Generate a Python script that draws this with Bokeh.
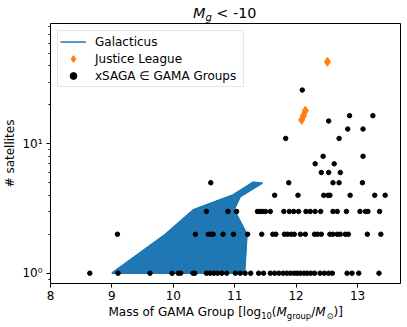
from bokeh.plotting import figure
from bokeh.models import Range1d, FixedTicker, Legend, LegendItem, Div
from bokeh.layouts import column
from bokeh.embed import file_html
from bokeh.resources import INLINE

FONT = "DejaVu Sans"
BLUE = "#1f77b4"
ORANGE = "#ff7f0e"

# ---------------- data ----------------
# Galacticus envelope (outline of the filled region)
gal_mass = [9.00, 9.87, 10.33, 10.96, 11.30, 11.45, 11.09, 10.99, 11.20, 11.16]
gal_nsat = [1.0, 2.0, 3.1, 4.0, 5.05, 4.97, 3.9, 3.1, 2.0, 1.0]

# Justice League
jl_mass = [12.09, 12.12, 12.15, 12.51]
jl_nsat = [15.3, 16.5, 18.0, 43.0]

# xSAGA in GAMA groups, grouped by number of satellites
mass_n1 = [8.64, 9.10, 9.62, 9.98, 10.08, 10.12, 10.32, 10.35,
           10.54, 10.60, 10.66, 10.72, 10.79, 10.87,
           11.01, 11.09, 11.17, 11.26, 11.39, 11.47,
           11.58, 11.65, 11.72, 11.79, 11.85,
           11.91, 11.97, 12.02, 12.07, 12.13, 12.18, 12.24, 12.30,
           12.39, 12.46, 12.53, 12.59, 12.83, 12.91, 13.02, 13.35]
mass_n2 = [9.09, 10.36, 10.57, 10.62, 10.65, 10.81, 10.98, 11.21, 11.44,
           11.62, 11.67, 11.81, 11.86, 11.92, 11.97, 12.07, 12.15,
           12.30, 12.35, 12.41, 12.55, 12.60, 12.67, 12.72, 12.80, 12.85,
           13.16, 13.38]
mass_n3 = [10.54, 10.89, 11.03, 11.37, 11.41, 11.45, 11.50, 11.58, 11.80,
           11.89, 11.96, 12.04, 12.16, 12.23, 12.31, 12.40, 12.60, 12.67,
           12.82, 13.04, 13.13, 13.17, 13.36]
mass_n4 = [11.65, 12.03, 12.45, 12.52, 12.55, 12.88, 13.28, 13.45]
mass_n5 = [10.61, 11.88, 12.60, 12.70, 13.08]
mass_n6 = [12.41, 12.53, 12.72]
mass_n7 = [12.31, 12.62]
mass_n8 = [12.44, 13.09]
mass_n11 = [11.83, 12.70]
mass_n13 = [12.84, 13.09]
mass_n15 = [12.53]
mass_n16 = [12.87, 13.25]
mass_n26 = [12.10]

xsaga_groups = [(1, mass_n1), (2, mass_n2), (3, mass_n3), (4, mass_n4), (5, mass_n5),
                (6, mass_n6), (7, mass_n7), (8, mass_n8), (11, mass_n11), (13, mass_n13),
                (15, mass_n15), (16.5, mass_n16), (26, mass_n26)]
xsaga_mass = [m for n, ms in xsaga_groups for m in ms]
xsaga_nsat = [n for n, ms in xsaga_groups for m in ms]

x_ticks = [8, 9, 10, 11, 12, 13]
y_ticks = [1, 10]
y_minor = [0.9, 2, 3, 4, 5, 6, 7, 8, 9, 20, 30, 40, 50, 60, 70, 80]
y_tick_labels = {1: "10\u2070", 10: "10\u00b9"}

# ---------------- figure ----------------
W = 407
p = figure(frame_width=350, frame_height=260,
           x_range=Range1d(8, 13.7), y_range=Range1d(0.8325, 85.0),
           y_axis_type="log", output_backend="svg", toolbar_location=None,
           min_border_left=50, min_border_right=7, min_border_top=1,
           min_border_bottom=22)
p.title.visible = False
p.grid.visible = False
p.outline_line_color = "black"
p.outline_line_width = 1
p.background_fill_color = "white"
p.border_fill_color = "white"

p.patch(gal_mass, gal_nsat, fill_color=BLUE, line_color=BLUE, line_width=1)
gal_line = p.line(gal_mass + [gal_mass[0]], gal_nsat + [gal_nsat[0]],
                  line_color=BLUE, line_width=1.5)
jl = p.scatter(jl_mass, jl_nsat, marker="diamond", size=9,
               fill_color=ORANGE, line_color=ORANGE)
xs = p.scatter(xsaga_mass, xsaga_nsat, marker="circle", size=4.5,
               fill_color="black", line_color="black")

for ax in (p.xaxis[0], p.yaxis[0]):
    ax.axis_line_color = None
    ax.major_tick_out = 4
    ax.major_tick_in = 0
    ax.minor_tick_out = 2
    ax.minor_tick_in = 0
    ax.major_tick_line_color = "black"
    ax.minor_tick_line_color = "black"
    ax.major_label_text_font = FONT
    ax.major_label_text_font_size = "12px"
    ax.major_label_text_color = "black"
    ax.axis_label_text_font = FONT
    ax.axis_label_text_font_size = "12px"
    ax.axis_label_text_font_style = "normal"
    ax.axis_label_text_color = "black"

p.xaxis[0].ticker = FixedTicker(ticks=x_ticks, minor_ticks=[])
p.xaxis[0].major_label_standoff = 3
p.yaxis[0].ticker = FixedTicker(ticks=y_ticks, minor_ticks=y_minor)
p.yaxis[0].major_label_overrides = y_tick_labels
p.yaxis[0].major_label_standoff = 4
p.yaxis[0].axis_label = "# satellites"
p.yaxis[0].axis_label_standoff = 2

legend = Legend(items=[LegendItem(label="Galacticus", renderers=[gal_line]),
                       LegendItem(label="Justice League", renderers=[jl]),
                       LegendItem(label="xSAGA \u2208 GAMA Groups", renderers=[xs])],
                location="top_left", margin=7, padding=2, spacing=0,
                label_height=17, glyph_height=17, glyph_width=26, label_standoff=9,
                label_width=146,
                label_text_font=FONT, label_text_font_size="12px",
                label_text_color="black",
                border_line_color="#cccccc", border_line_width=1,
                background_fill_color="white", background_fill_alpha=0.8)
p.add_layout(legend)

# ---------------- title and x label as HTML (real text with subscripts) ----------------
SUB = "font-size:8.4px;vertical-align:-3px;line-height:0;"
title_html = (
    '<div style="position:relative;width:%dpx;height:22px;">'
    '<span style="position:absolute;left:193px;top:5px;white-space:nowrap;'
    'font-family:\'DejaVu Sans\';font-size:14.4px;line-height:normal;color:black;">'
    '<i>M</i><sub style="font-size:10px;vertical-align:-3.3px;line-height:0;"><i>g</i></sub>'
    ' &lt; -10</span></div>' % W
)
xlabel_html = (
    '<div style="position:relative;width:%dpx;height:22px;">'
    '<span style="position:absolute;left:108.5px;top:0px;white-space:nowrap;'
    'font-family:\'DejaVu Sans\';font-size:12px;line-height:normal;color:black;">'
    'Mass of GAMA Group [log'
    '<sub style="' + SUB + '">10</sub>'
    '(<i>M</i><sub style="' + SUB + '">group</sub>'
    '/<i>M</i><sub style="' + SUB + 'margin-left:1px;">\u2299</sub>)]'
    '</span></div>'
) % W
title_div = Div(text=title_html, width=W, height=22, margin=(0, 0, 0, 0))
xlabel_div = Div(text=xlabel_html, width=W, height=22, margin=(0, 0, 0, 0))

layout = column(title_div, p, xlabel_div, spacing=0)

open("out.html", "w").write(file_html(layout, INLINE))
